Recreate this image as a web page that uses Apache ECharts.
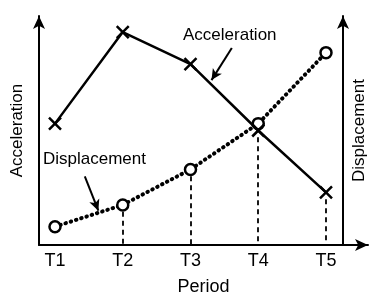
<!DOCTYPE html>
<html>
<head>
<meta charset="utf-8">
<script src="https://cdn.jsdelivr.net/npm/echarts@6/dist/echarts.min.js"></script>
<style>
  html, body { margin: 0; padding: 0; background: #fff; }
  #main { width: 374px; height: 293px; }
</style>
</head>
<body>
<div id="main"></div>
<script>
var periods = ['T1', 'T2', 'T3', 'T4', 'T5'];
var acceleration = [53, 93, 79, 50, 23];
var displacement = [8, 17.5, 33, 53, 84];
// which points get a dashed drop line (T1 has none)
var dropFrom = [false, true, true, true, true];

var font = "'Liberation Sans', Arial, sans-serif";
var crossPath = 'path://M0,0L10,10M10,0L0,10';

function pts(values) {
    return values.map(function (v, i) { return [i + 1, v]; });
}

function drops() {
    var out = [];
    periods.forEach(function (p, i) {
        if (!dropFrom[i]) return;
        var top = Math.min(acceleration[i], displacement[i]) - 3;
        out.push([{ coord: [i + 1, top] }, { coord: [i + 1, 0] }]);
    });
    return out;
}

var myChart = echarts.init(document.getElementById('main'));
var axisLine = {
    show: true,
    symbol: ['none', 'arrow'],
    symbolSize: [9, 13],
    lineStyle: { color: '#000', width: 2 }
};
var option = {
    animation: false,
    textStyle: { fontFamily: font },
    grid: { left: 39, right: 6, top: 16, bottom: 48, outerBoundsMode: 'none' },
    xAxis: {
        type: 'value',
        min: 0.764,
        max: 5.62,
        axisLine: axisLine,
        axisTick: { show: false },
        splitLine: { show: false },
        axisLabel: {
            customValues: [1, 2, 3, 4, 5],
            formatter: function (v) { return periods[v - 1]; },
            color: '#000',
            fontSize: 18,
            fontFamily: font,
            margin: 7
        },
        name: 'Period',
        nameLocation: 'middle',
        nameGap: 33,
        nameTextStyle: { color: '#000', fontSize: 18, fontFamily: font }
    },
    yAxis: [
        {
            type: 'value', min: 0, max: 100, position: 'left',
            axisLine: axisLine,
            axisTick: { show: false }, axisLabel: { show: false }, splitLine: { show: false },
            name: 'Acceleration', nameLocation: 'middle', nameRotate: 90, nameGap: 13,
            nameTextStyle: { color: '#000', fontSize: 17, fontFamily: font }
        },
        {
            type: 'value', min: 0, max: 100, position: 'right', offset: -25,
            axisLine: axisLine,
            axisTick: { show: false }, axisLabel: { show: false }, splitLine: { show: false },
            name: 'Displacement', nameLocation: 'middle', nameRotate: 90, nameGap: 8,
            nameTextStyle: { color: '#000', fontSize: 17, fontFamily: font }
        }
    ],
    graphic: [
        { type: 'text', left: 183, top: 27, style: { text: 'Acceleration', fill: '#000', font: '17px ' + font } },
        { type: 'text', left: 43, top: 151, style: { text: 'Displacement', fill: '#000', font: '17px ' + font } }
    ],
    series: [
        {
            name: 'Displacement',
            type: 'line',
            yAxisIndex: 1,
            data: pts(displacement),
            symbol: 'circle',
            symbolSize: 11,
            lineStyle: { color: '#000', width: 4, type: [0.5, 5], cap: 'round' },
            itemStyle: { color: '#fff', borderColor: '#000', borderWidth: 2.5 },
            z: 2,
            markLine: {
                silent: true,
                animation: false,
                symbol: 'none',
                label: { show: false },
                lineStyle: { color: '#000', width: 1.8, type: [5, 4] },
                data: drops().concat([
                    [{ coord: [1.44, 30], symbol: 'none', lineStyle: { type: 'solid', width: 2 } },
                     { coord: [1.64, 15], symbol: 'arrow', symbolSize: [8, 11] }]
                ])
            }
        },
        {
            name: 'Acceleration',
            type: 'line',
            data: pts(acceleration),
            symbol: crossPath,
            symbolSize: 12,
            lineStyle: { color: '#000', width: 2.5 },
            itemStyle: { color: '#000', borderColor: '#000', borderWidth: 2.5 },
            z: 3,
            markLine: {
                silent: true,
                animation: false,
                symbol: 'none',
                label: { show: false },
                lineStyle: { color: '#000', width: 2, type: 'solid' },
                data: [
                    [{ coord: [3.61, 86], symbol: 'none' },
                     { coord: [3.31, 72], symbol: 'arrow', symbolSize: [8, 11] }]
                ]
            }
        }
    ]
};
myChart.setOption(option);
</script>
</body>
</html>
